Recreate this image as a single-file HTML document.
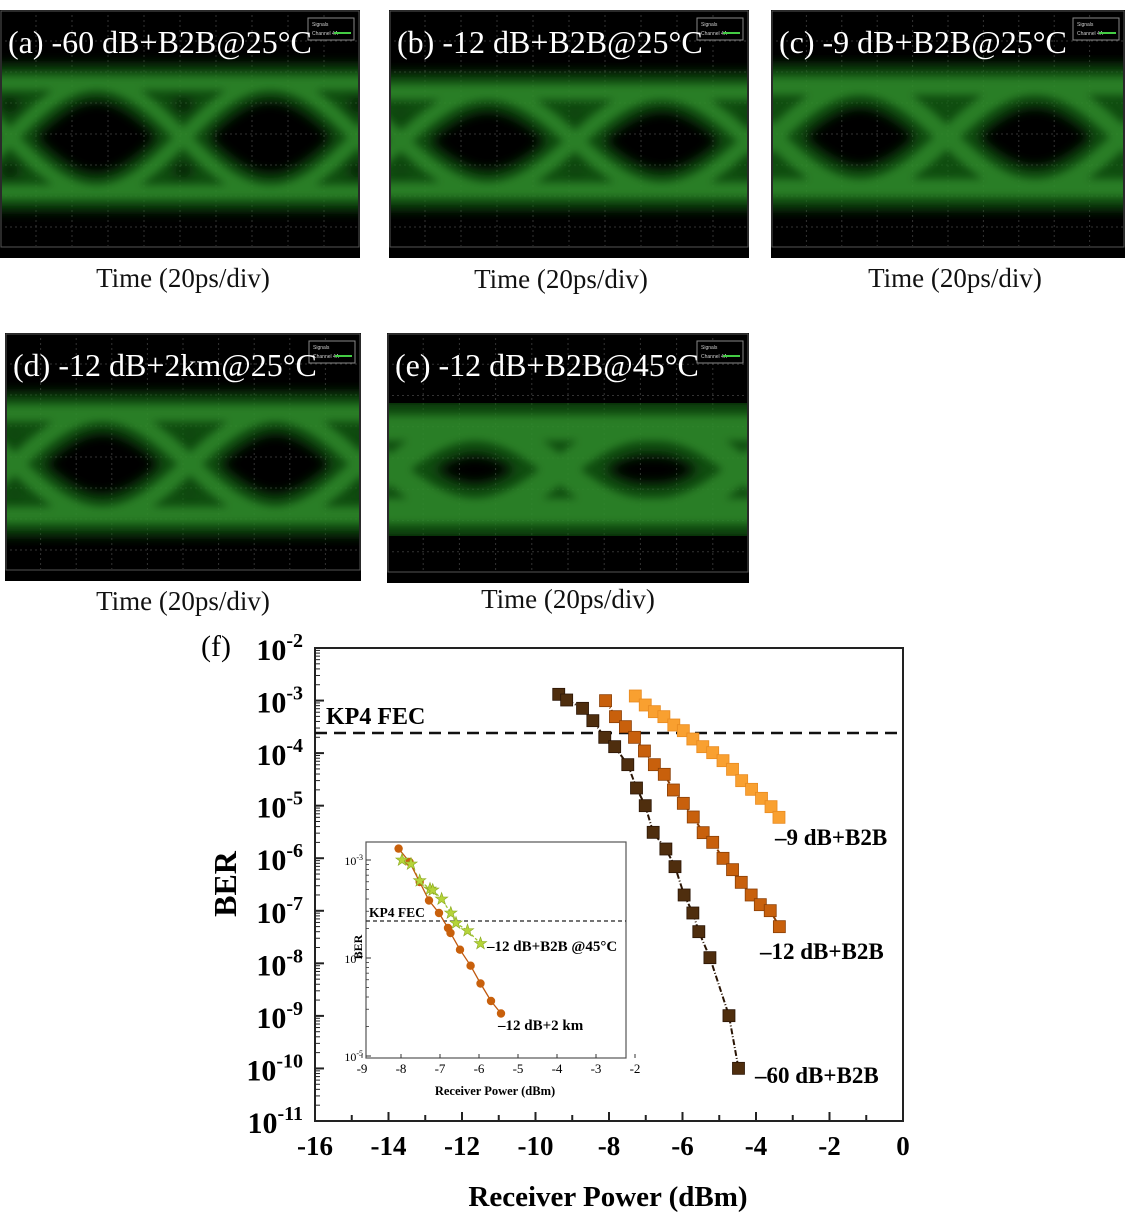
<!DOCTYPE html>
<html><head><meta charset="utf-8">
<style>
html,body{margin:0;padding:0;background:#fff;}
svg{display:block;font-family:"Liberation Serif",serif;}
</style></head>
<body>
<svg id="s" width="1125" height="1223" viewBox="0 0 1125 1223" xmlns="http://www.w3.org/2000/svg">
<defs>
<filter id="bl" x="-10%" y="-30%" width="120%" height="160%"><feGaussianBlur stdDeviation="6"/></filter>
<filter id="bl2" x="-10%" y="-30%" width="120%" height="160%"><feGaussianBlur stdDeviation="4"/></filter>
</defs>
<g id="eyes"></g>
<g font-size="27" text-anchor="middle" fill="#111">
<text x="183" y="287">Time (20ps/div)</text>
<text x="561" y="288">Time (20ps/div)</text>
<text x="955" y="287">Time (20ps/div)</text>
<text x="183" y="610">Time (20ps/div)</text>
<text x="568" y="608">Time (20ps/div)</text>
</g>
<g id="plot"></g>
</svg>
<script>
var NS="http://www.w3.org/2000/svg";
function el(p,t,a,txt){var e=document.createElementNS(NS,t);for(var k in a)e.setAttribute(k,a[k]);if(txt!==undefined)e.textContent=txt;p.appendChild(e);return e;}
var eyes=document.getElementById('eyes');
var panels=[
 {x:0,y:10,w:360,h:248,T:73,B:182,c:[10,183,358],lab:"(a) -60 dB+B2B@25°C",sw:24},
 {x:389,y:10,w:360,h:248,T:82,B:180,c:[12,186,360],lab:"(b) -12 dB+B2B@25°C",sw:26},
 {x:771,y:10,w:354,h:248,T:76,B:178,c:[2,176,352],lab:"(c) -9 dB+B2B@25°C",sw:30},
 {x:5,y:333,w:356,h:248,T:80,B:182,c:[10,185,356],lab:"(d) -12 dB+2km@25°C",sw:28},
 {x:387,y:333,w:362,h:250,T:95,B:178,c:[3,173,356],lab:"(e) -12 dB+B2B@45°C",sw:42}
];
panels.forEach(function(p){
 var g=el(eyes,'g',{transform:'translate('+p.x+','+p.y+')'});
 el(g,'rect',{x:0,y:0,width:p.w,height:p.h,fill:'#000'});
 var cp=el(g,'clipPath',{id:'c'+p.x+p.y});el(cp,'rect',{x:2,y:2,width:p.w-4,height:p.h-14});
 var gg=el(g,'g',{'clip-path':'url(#c'+p.x+p.y+')'});
 for(var i=1;i<10;i++)el(gg,'line',{x1:p.w*i/10,y1:0,x2:p.w*i/10,y2:p.h,stroke:'#333','stroke-width':1,'stroke-dasharray':'2,3'});
 for(var j=1;j<8;j++)el(gg,'line',{x1:0,y1:p.h*j/8,x2:p.w,y2:p.h*j/8,stroke:'#333','stroke-width':1,'stroke-dasharray':'2,3'});
 var d="M-20,"+p.T+" L"+(p.w+20)+","+p.T+" M-20,"+p.B+" L"+(p.w+20)+","+p.B;
 var half=(p.c[1]-p.c[0])/2;
 p.c.forEach(function(c){
   d+=" M"+(c-half)+","+p.T+" C"+(c-half*0.25)+","+p.T+" "+(c+half*0.25)+","+p.B+" "+(c+half)+","+p.B;
   d+=" M"+(c-half)+","+p.B+" C"+(c-half*0.25)+","+p.B+" "+(c+half*0.25)+","+p.T+" "+(c+half)+","+p.T;
 });
 el(gg,'path',{d:d,fill:'none',stroke:'#166816','stroke-width':p.sw+12,opacity:0.75,filter:'url(#bl)'});
 el(gg,'path',{d:d,fill:'none',stroke:'#3a9e36','stroke-width':p.sw*0.6,opacity:0.6,filter:'url(#bl2)'});
 el(g,'rect',{x:1,y:1,width:p.w-2,height:p.h-12,fill:'none',stroke:'#555','stroke-width':1});
 var lg=el(g,'g',{});
 el(lg,'rect',{x:p.w-52,y:8,width:46,height:22,fill:'#000',stroke:'#888','stroke-width':1});
 el(lg,'text',{x:p.w-48,y:16,'font-size':5,fill:'#ccc','font-family':'Liberation Sans'},'Signals');
 el(lg,'text',{x:p.w-48,y:25,'font-size':5,fill:'#ccc','font-family':'Liberation Sans'},'Channel 4A');
 el(lg,'line',{x1:p.w-26,y1:23,x2:p.w-9,y2:23,stroke:'#4c4','stroke-width':2});
 el(g,'text',{x:8,y:43,'font-size':32,fill:'#fff'},p.lab);
});

var P=document.getElementById('plot');
var L=315,R=903,T=648,Bt=1121,D=(Bt-T)/9;
function X(v){return L+(v+16)*(R-L)/16;}
function Y(e){return T+(-2-e)*D;}
el(P,'text',{x:201,y:656,'font-size':30},'(f)');
el(P,'rect',{x:L,y:T,width:R-L,height:Bt-T,fill:'none',stroke:'#222','stroke-width':2});
for(var e=-2;e>=-11;e--){
 var y=Y(e);
 el(P,'line',{x1:L,y1:y,x2:L+9,y2:y,stroke:'#222','stroke-width':2});
 if(e>-11)for(var m=2;m<10;m++){var yy=Y(e-1)-Math.log10(m)*D;el(P,'line',{x1:L,y1:yy,x2:L+5,y2:yy,stroke:'#222','stroke-width':1});}
 var t=el(P,'text',{x:303,y:y+12,'font-size':30,'font-weight':'bold','text-anchor':'end'});
 el(t,'tspan',{},'10');el(t,'tspan',{dy:-13,'font-size':20},String(e));
}
for(var v=-16;v<=0;v++){var x=X(v);el(P,'line',{x1:x,y1:Bt,x2:x,y2:Bt-(v%2==0?9:6),stroke:'#222','stroke-width':2});
 if(v%2==0)el(P,'text',{x:x,y:1155,'font-size':27,'font-weight':'bold','text-anchor':'middle'},String(v));}
el(P,'text',{x:608,y:1206,'font-size':29,'font-weight':'bold','text-anchor':'middle'},'Receiver Power (dBm)');
el(P,'text',{x:0,y:0,'font-size':32,'font-weight':'bold','text-anchor':'middle',transform:'translate(236,884) rotate(-90)'},'BER');
el(P,'line',{x1:L,y1:733,x2:R,y2:733,stroke:'#111','stroke-width':2.5,'stroke-dasharray':'12,7'});
el(P,'text',{x:326,y:724,'font-size':24,'font-weight':'bold'},'KP4 FEC');
function conv(a){return a.map(function(q){return [300+q[0]/2.52,630+q[1]/3];});}
var dark=conv([[652,193],[672,210],[712,235],[738,272],[768,322],[793,350],[826,404],[848,474],[870,527],[890,607],[922,657],[945,710],[968,795],[990,849],[1005,905],[1033,983],[1081,1157],[1105,1315]]);
var mid=conv([[770,212],[795,260],[820,290],[843,322],[868,363],[893,404],[918,433],[941,480],[966,520],[991,561],[1016,608],[1040,637],[1066,685],[1090,719],[1112,757],[1137,795],[1160,824],[1185,842],[1208,890]]);
var lite=conv([[845,198],[870,225],[893,245],[917,260],[942,285],[966,302],[990,327],[1015,350],[1040,368],[1066,392],[1090,418],[1113,452],[1138,478],[1163,505],[1187,530],[1207,562]]);
function series(pts,col,lc){
 el(P,'polyline',{points:pts.map(function(q){return q.join(',');}).join(' '),fill:'none',stroke:lc,'stroke-width':2,'stroke-dasharray':'6,2,1,2'});
 pts.forEach(function(q){el(P,'rect',{x:q[0]-6,y:q[1]-6,width:12,height:12,fill:col,stroke:lc,'stroke-width':0.8});});
}
series(lite,'#f9a030','#e88a20');
series(mid,'#c8600c','#8a3e05');
series(dark,'#4f2e0e','#2a1505');
el(P,'text',{x:775,y:845,'font-size':23,'font-weight':'bold'},'–9 dB+B2B');
el(P,'text',{x:760,y:959,'font-size':23,'font-weight':'bold'},'–12 dB+B2B');
el(P,'text',{x:755,y:1083,'font-size':23,'font-weight':'bold'},'–60 dB+B2B');
var iL=366,iR=626,iT=842,iB=1058;
el(P,'rect',{x:iL,y:iT,width:iR-iL,height:iB-iT,fill:'#fff',stroke:'#555','stroke-width':1.2});
function IX(v){return 362+(v+9)*39;}
var dec=[[-3,860],[-4,958],[-5,1056]];
dec.forEach(function(d,i){
 el(P,'line',{x1:iL,y1:d[1],x2:iL+5,y2:d[1],stroke:'#333'});
 if(i>0)for(var m=2;m<10;m++){var yy=d[1]-Math.log10(m)*98;el(P,'line',{x1:iL,y1:yy,x2:iL+3,y2:yy,stroke:'#333','stroke-width':0.8});}
 var t=el(P,'text',{x:iL-3,y:d[1]+5,'font-size':12,'text-anchor':'end'});el(t,'tspan',{},'10');el(t,'tspan',{dy:-5,'font-size':8},String(d[0]));
});
for(var m=2;m<10;m++){var yy=860-Math.log10(m)*98;if(yy>iT)el(P,'line',{x1:iL,y1:yy,x2:iL+3,y2:yy,stroke:'#333','stroke-width':0.8});}
for(var v=-9;v<=-2;v++){var x=IX(v);el(P,'line',{x1:x,y1:iB,x2:x,y2:iB-4,stroke:'#333'});el(P,'text',{x:x,y:1073,'font-size':13,'text-anchor':'middle'},String(v));}
el(P,'text',{x:495,y:1095,'font-size':12.5,'font-weight':'bold','text-anchor':'middle'},'Receiver Power (dBm)');
el(P,'text',{x:0,y:0,'font-size':12,'font-weight':'bold','text-anchor':'middle',transform:'translate(362,947) rotate(-90)'},'BER');
el(P,'line',{x1:iL,y1:921,x2:iR,y2:921,stroke:'#222','stroke-width':1.3,'stroke-dasharray':'4,3'});
el(P,'text',{x:369,y:917,'font-size':13.5,'font-weight':'bold'},'KP4 FEC');
var circ=[[398.6,848.6],[409.5,862],[419.7,882],[429,900.5],[439,913],[448,928],[450.5,933],[460,949.7],[470.6,965.7],[480.5,983.5],[491,1001],[501,1013.5]];
var star=[[402,860],[411,864],[419.7,880.7],[430,889],[432.7,890],[441.6,899],[450.8,913],[456,923],[467.5,930.6],[480.5,943.5]];
el(P,'polyline',{points:star.map(function(q){return q.join(',');}).join(' '),fill:'none',stroke:'#9bc22a','stroke-width':1.3,'stroke-dasharray':'3,2'});
el(P,'polyline',{points:circ.map(function(q){return q.join(',');}).join(' '),fill:'none',stroke:'#c0580e','stroke-width':1.3});
circ.forEach(function(q){el(P,'circle',{cx:q[0],cy:q[1],r:4.2,fill:'#c8600c'});});
star.forEach(function(q){
 var pts=[];for(var k=0;k<10;k++){var r=k%2?2.6:6.5,a=-Math.PI/2+k*Math.PI/5;pts.push((q[0]+r*Math.cos(a)).toFixed(1)+','+(q[1]+r*Math.sin(a)).toFixed(1));}
 el(P,'polygon',{points:pts.join(' '),fill:'#b5d43a',stroke:'#8aa820','stroke-width':0.6});
});
el(P,'text',{x:487,y:951,'font-size':15,'font-weight':'bold'},'–12 dB+B2B @45°C');
el(P,'text',{x:498,y:1030,'font-size':15,'font-weight':'bold'},'–12 dB+2 km');
</script>
</body></html>
